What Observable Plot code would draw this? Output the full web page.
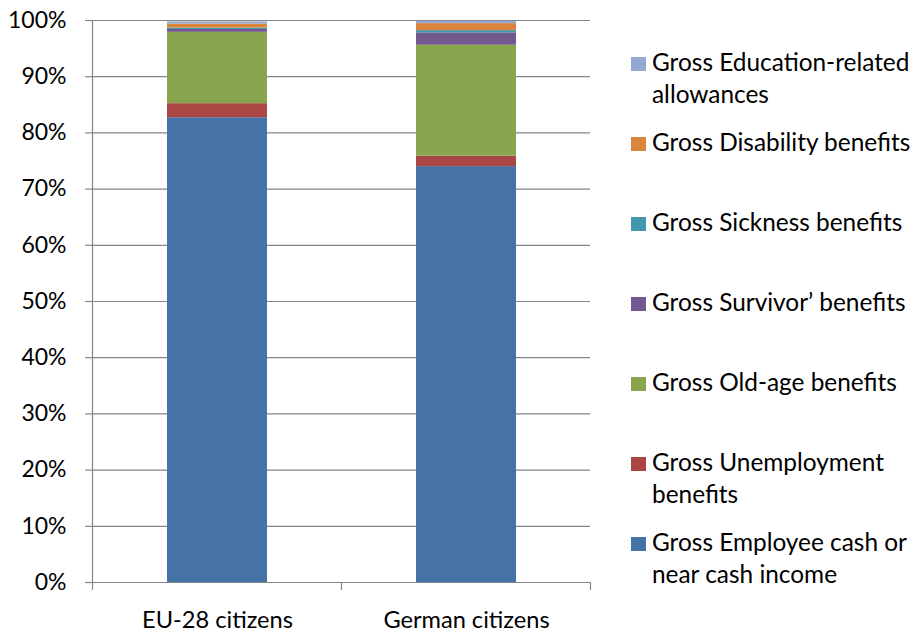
<!DOCTYPE html>
<html>
<head>
<meta charset="utf-8">
<script src="https://cdn.jsdelivr.net/npm/d3@7"></script>
<script src="https://cdn.jsdelivr.net/npm/@observablehq/plot@0.6"></script>
<style>
  html, body { margin: 0; padding: 0; background: #fff; }
  #wrap { position: relative; width: 915px; height: 633px; font-family: Lato, "Open Sans", sans-serif; }
  #legend { position: absolute; left: 631px; top: 45.5px; }
  .item { position: absolute; left: 0; white-space: pre; font-size: 24.4px; line-height: 32px; color: #000; }
  .sw { position: absolute; left: 0; top: 11.5px; width: 15px; height: 14px; }
  .lbl { position: absolute; left: 21px; top: 0; }
</style>
</head>
<body>
<div id="wrap"><div id="legend"></div></div>
<script>
const categories = ["EU-28 citizens", "German citizens"];
// stacked bottom to top
const series = [
  "Gross Employee cash or near cash income",
  "Gross Unemployment benefits",
  "Gross Old-age benefits",
  "Gross Survivor’ benefits",
  "Gross Sickness benefits",
  "Gross Disability benefits",
  "Gross Education-related allowances"
];
const legendLabels = [
  "Gross Employee cash or\nnear cash income",
  "Gross Unemployment\nbenefits",
  "Gross Old-age benefits",
  "Gross Survivor’ benefits",
  "Gross Sickness benefits",
  "Gross Disability benefits",
  "Gross Education-related\nallowances"
];
const colors = ["#4572A7", "#AA4643", "#89A54E", "#71588F", "#4198AF", "#DB843D", "#93A9CF"];
const eu28Values = [82.7, 2.5, 12.7, 0.5, 0.25, 0.7, 0.4];
const germanValues = [74.0, 1.85, 19.75, 2.2, 0.4, 1.25, 0.4];
const yTicks = [0, 10, 20, 30, 40, 50, 60, 70, 80, 90, 100];

const valuesByCategory = [eu28Values, germanValues];
const data = categories.flatMap((c, ci) =>
  series.map((s, si) => ({category: c, series: s, value: valuesByCategory[ci][si]}))
);

const gray = "#868686";
const plot = Plot.plot({
  width: 915,
  height: 633,
  marginLeft: 92,
  marginRight: 325,
  marginTop: 20,
  marginBottom: 51,
  style: {fontFamily: "Lato, 'Open Sans', sans-serif", fontSize: "23px", color: "#000", background: "#fff"},
  x: {domain: categories, paddingInner: 0.6, paddingOuter: 0.3, label: null},
  y: {domain: [0, 100], label: null},
  color: {domain: series, range: colors},
  marks: [
    Plot.gridY(yTicks, {stroke: gray, strokeOpacity: 1, strokeWidth: 1.2}),
    Plot.barY(data, {x: "category", y: "value", fill: "series", order: series}),
    Plot.axisY({ticks: yTicks, tickFormat: d => d + "%", tickSize: 7, tickPadding: 19, stroke: gray, strokeWidth: 1.2, label: null}),
    Plot.axisX({tickSize: 0, tickPadding: 29, fontSize: 23.6, label: null}),
    Plot.ruleY([0], {stroke: gray, strokeWidth: 1.2}),
    Plot.frame({anchor: "left", stroke: gray, strokeWidth: 1.2})
  ]
});

// x-axis tick marks at category boundaries, derived from the band scale
const xs = plot.scale("x");
const yS = plot.scale("y");
const gap = (xs.step - xs.bandwidth) / 2;
const bounds = categories.map(c => xs.apply(c) - gap);
bounds.push(xs.apply(categories[categories.length - 1]) + xs.bandwidth + gap);
const y0 = yS.apply(0);
d3.select(plot).append("g")
  .selectAll("line").data(bounds).join("line")
  .attr("x1", d => d).attr("x2", d => d)
  .attr("y1", y0).attr("y2", y0 + 8)
  .attr("stroke", gray).attr("stroke-width", 1.2);

document.getElementById("wrap").prepend(plot);

// legend (top to bottom = reverse stacking order)
const legend = d3.select("#legend");
const order = d3.range(series.length).reverse();
order.forEach((si, i) => {
  const item = legend.append("div").attr("class", "item").style("top", (80 * i) + "px");
  item.append("div").attr("class", "sw").style("background", colors[si]);
  item.append("div").attr("class", "lbl").text(legendLabels[si]);
});
</script>
</body>
</html>
